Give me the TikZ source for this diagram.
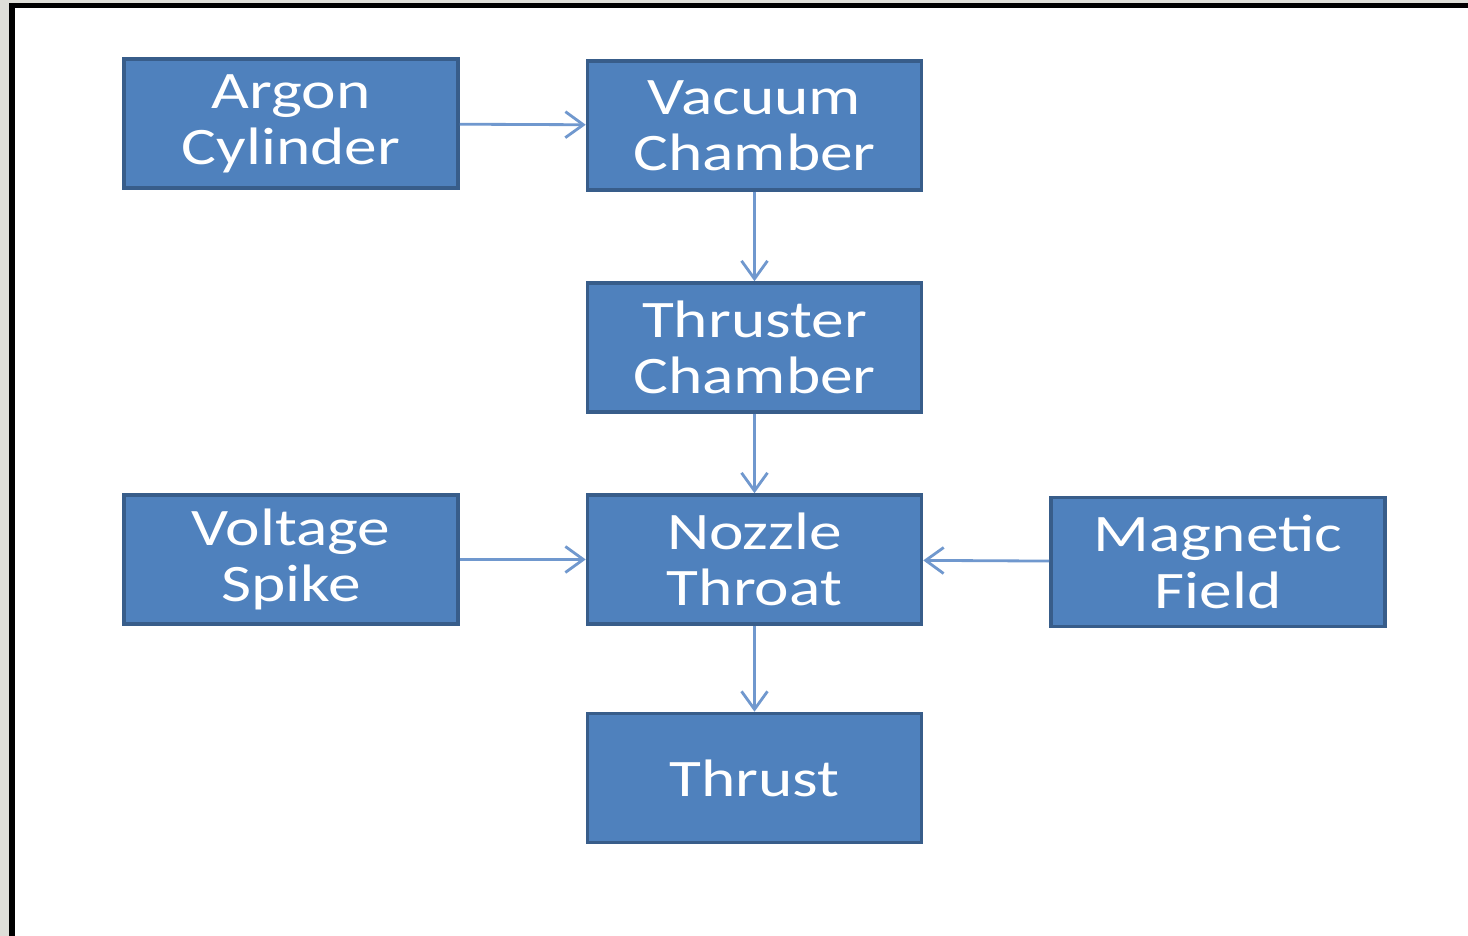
\documentclass[tikz,border=0pt]{standalone}
\usepackage{fontspec}
\usepackage{tikz}
\usetikzlibrary{arrows.meta,positioning}
\newfontfamily\boxfont[FakeStretch=1.24]{Carlito}
\definecolor{boxblue}{RGB}{79,129,189}
\definecolor{boxedge}{RGB}{56,93,138}
\definecolor{linkblue}{RGB}{112,152,206}
\definecolor{framegray}{RGB}{222,222,216}

\begin{document}
\begin{tikzpicture}[
    block/.style={draw=boxedge, line width=1pt, fill=boxblue, text=white,
                  minimum width=33.4mm, minimum height=12.9mm, inner sep=0pt,
                  align=center, font=\boxfont\fontsize{15}{16}\selectfont},
    link/.style={draw=linkblue, line width=0.8pt,
                 -{Straight Barb[length=1.8mm, width=2.6mm]}}]
    % frame
    \useasboundingbox (0,0) rectangle (14.68,9.36);
    \fill[white] (0,0) rectangle (14.68,9.36);
    \fill[framegray] (0,0) rectangle (0.09,9.36);
    \fill[framegray] (0,9.33) rectangle (14.68,9.36);
    \fill[black] (0.09,0) rectangle (0.15,9.33);
    \fill[black] (0.09,9.28) rectangle (14.68,9.33);

    % blocks
    \node[block] (argon)    at (2.91,8.125)  {Argon\\Cylinder};
    \node[block] (vacuum)   at (7.545,8.105) {Vacuum\\Chamber};
    \node[block] (thruster) at (7.545,5.885) {Thruster\\Chamber};
    \node[block] (voltage)  at (2.91,3.765)  {Voltage\\Spike};
    \node[block] (nozzle)   at (7.545,3.765) {Nozzle\\Throat};
    \node[block] (magnet)   at (12.18,3.74)  {Magnetic\\Field};
    \node[block] (thrust)   at (7.545,1.58)  {Thrust};

    % links
    \draw[link] (argon) -- (vacuum);
    \draw[link] (vacuum) -- (thruster);
    \draw[link] (thruster) -- (nozzle);
    \draw[link] (voltage) -- (nozzle);
    \draw[link] (magnet) -- (nozzle);
    \draw[link] (nozzle) -- (thrust);
\end{tikzpicture}
\end{document}
